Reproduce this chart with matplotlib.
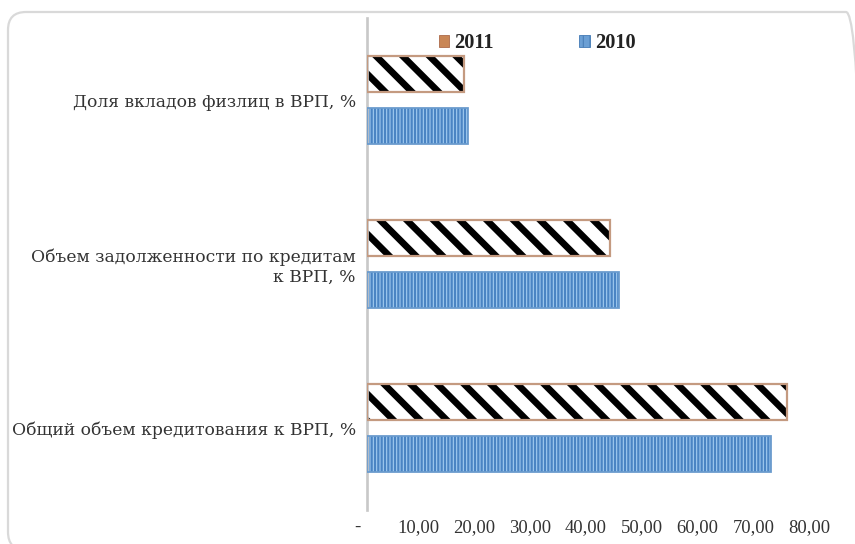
import matplotlib
matplotlib.use("Agg")
import matplotlib.pyplot as plt
from matplotlib.patches import Patch, FancyBboxPatch
from matplotlib.transforms import ScaledTranslation
import numpy as np

# Data
categories = ["Доля вкладов физлиц в ВРП, %",
              "Объем задолженности по кредитам\nк ВРП, %",
              "Общий объем кредитования к ВРП, %"]
series_names = ["2011", "2010"]
values_2011 = [17.4, 43.6, 75.3]
values_2010 = [18.1, 45.2, 72.4]
tick_values = [0, 10, 20, 30, 40, 50, 60, 70, 80]
tick_labels = ["-", "10,00", "20,00", "30,00", "40,00", "50,00", "60,00", "70,00", "80,00"]

DPI = 160
W, H = 855, 544
plt.rcParams['font.family'] = ['Liberation Serif', 'DejaVu Serif']
TXT = '#333333'
FS = 8.4

fig = plt.figure(figsize=(W / DPI, H / DPI), dpi=DPI)
fig.patch.set_facecolor('white')

# Rounded outer frame (in pixel units via inches transform)
px = 1.0 / DPI
frame = FancyBboxPatch((8 * px, -6 * px), (864 - 8) * px, (532 + 6) * px,
                       boxstyle=f"round,pad=0,rounding_size={18 * px}",
                       transform=fig.dpi_scale_trans, facecolor='none',
                       edgecolor='#d9d9d9', linewidth=1.0, zorder=-1)
fig.patches.append(frame)

ax_left, ax_right = 367, 813
ax_top, ax_bottom = 18, 510
ax = fig.add_axes([ax_left / W, 1 - ax_bottom / H,
                   (ax_right - ax_left) / W, (ax_bottom - ax_top) / H])
ax.set_facecolor('none')

y = np.arange(len(categories))
bar_h = 0.22
off = 0.159

# 2011: white bars with thick black diagonal stripes, soft brown border
with plt.rc_context({'hatch.linewidth': 3.0}):
    ax.barh(y - off, values_2011, height=bar_h, color='white',
            edgecolor='black', hatch='\\\\', linewidth=0, zorder=2)
ax.barh(y - off, values_2011, height=bar_h, fill=False,
        edgecolor='#c49a80', linewidth=1.0, zorder=3)

# 2010: blue bars with fine vertical stripes
with plt.rc_context({'hatch.linewidth': 1.0}):
    ax.barh(y + off, values_2010, height=bar_h, color='#a3ccf1',
            edgecolor='#4a84c3', hatch='|' * 8, linewidth=0, zorder=2)
ax.barh(y + off, values_2010, height=bar_h, fill=False,
        edgecolor='#6a9bcd', linewidth=0.8, zorder=3)

ax.set_xlim(0, 80)
ax.set_ylim(len(categories) - 0.5, -0.5)

ax.set_yticks(y)
ax.set_yticklabels(categories, fontsize=7.7, color=TXT, ha='right',
                   multialignment='right', family='DejaVu Serif')
ax.set_xticks(tick_values)
ax.set_xticklabels(tick_labels, fontsize=FS, color=TXT)
ax.tick_params(axis='both', length=0)
ax.tick_params(axis='y', pad=5)
ax.tick_params(axis='x', pad=4)
for i, lab in enumerate(ax.get_xticklabels()):
    shift = -10 if i == 0 else -4
    lab.set_transform(lab.get_transform() + ScaledTranslation(shift * px, 0, fig.dpi_scale_trans))

for side in ['top', 'right', 'bottom']:
    ax.spines[side].set_visible(False)
ax.spines['left'].set_color('#c8c8c8')
ax.spines['left'].set_linewidth(1.2)

handles = [Patch(facecolor='#c98656', edgecolor='#b07050', linewidth=0.4),
           Patch(facecolor='#6b9fd4', edgecolor='#4a7fb8', linewidth=0.4,
                 hatch='||||')]
with plt.rc_context({'hatch.linewidth': 0.5}):
    leg = ax.legend(handles, series_names, ncol=2, loc='center',
                    bbox_to_anchor=(537 / W, 1 - 43 / H),
                    bbox_transform=fig.transFigure, frameon=False,
                    prop={'weight': 'bold', 'size': 9.2},
                    handlelength=0.5, handleheight=0.5, handletextpad=0.25,
                    columnspacing=4.2)
for t in leg.get_texts():
    t.set_color('#222222')

fig.savefig('out.png', dpi=DPI, facecolor='white')
